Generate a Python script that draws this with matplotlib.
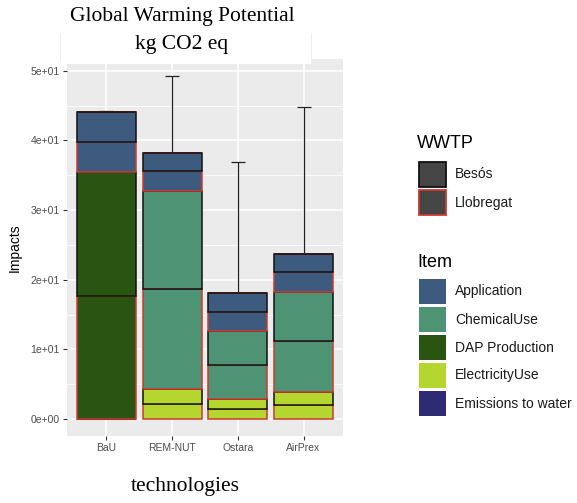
import numpy as np
import matplotlib.pyplot as plt
from matplotlib.patches import Rectangle
from matplotlib.lines import Line2D

# ------------------------------------------------------------
# data
# ------------------------------------------------------------
technologies = ['BaU', 'REM-NUT', 'Ostara', 'AirPrex']
items = ['ElectricityUse', 'ChemicalUse', 'DAP Production', 'Application', 'Emissions to water']
wwtps = ['Llobregat', 'Besós']   # stacked bottom-up within each item

# impacts per item, one list per WWTP (order = technologies)
llobregat = {
    'ElectricityUse':     [0.0, 2.2, 1.43, 1.95],
    'ChemicalUse':        [0.0, 14.3, 4.9, 7.3],
    'DAP Production':     [17.7, 0.0, 0.0, 0.0],
    'Application':        [4.3, 2.85, 2.75, 2.9],
    'Emissions to water': [0.0, 0.0, 0.0, 0.0],
}
besos = {
    'ElectricityUse':     [0.0, 2.1, 1.44, 1.92],
    'ChemicalUse':        [0.0, 14.1, 4.8, 7.0],
    'DAP Production':     [17.7, 0.0, 0.0, 0.0],
    'Application':        [4.3, 2.7, 2.75, 2.65],
    'Emissions to water': [0.0, 0.0, 0.0, 0.0],
}
err_upper = [44.15, 49.2, 36.95, 44.8]

yticks = [0, 10, 20, 30, 40, 50]
ytick_labels = ['0e+00', '1e+01', '2e+01', '3e+01', '4e+01', '5e+01']

item_colors = {
    'Application': '#3c5b7f',
    'ChemicalUse': '#4d9374',
    'DAP Production': '#2a5411',
    'ElectricityUse': '#b5d52f',
    'Emissions to water': '#2e2a74',
}
wwtp_edge = {'Besós': '#111111', 'Llobregat': '#cc3a30'}
legend_items = ['Application', 'ChemicalUse', 'DAP Production', 'ElectricityUse', 'Emissions to water']
legend_wwtp = ['Besós', 'Llobregat']

# ------------------------------------------------------------
# figure
# ------------------------------------------------------------
W, H = 577, 503
fig = plt.figure(figsize=(W/100, H/100), dpi=100)
plt.rcParams['font.family'] = ['Liberation Sans', 'DejaVu Sans']

def fx(x): return x/W
def fy(y): return 1 - y/H

ax = fig.add_axes([fx(67), fy(436.2), (343-67)/W, (436.2-59.1)/H])
ax.set_facecolor('#ebebeb')
for s in ax.spines.values():
    s.set_visible(False)
ax.set_axisbelow(True)

x = np.arange(len(technologies)) + 1
bottom = np.zeros(len(technologies))
for item in items:
    for w in wwtps:
        vals = np.array(llobregat[item] if w == 'Llobregat' else besos[item])
        ax.bar(x, vals, width=0.9, bottom=bottom, color=item_colors[item],
               edgecolor=wwtp_edge[w], linewidth=1.1, zorder=2)
        bottom = bottom + vals

tops = bottom
ax.errorbar(x, tops, yerr=[np.zeros(len(x)), np.array(err_upper) - tops], fmt='none',
            ecolor='#222222', elinewidth=0.9, capsize=4.7, capthick=0.9, zorder=1.5)

ax.set_xlim(0.4, 4.6)
ax.set_ylim(-2.46, 51.66)
ax.set_xticks(x)
ax.set_xticklabels(technologies)
ax.set_yticks(yticks)
ax.set_yticklabels(ytick_labels)
ax.set_yticks([5, 15, 25, 35, 45], minor=True)
ax.grid(True, which='major', color='white', linewidth=1.1)
ax.grid(True, which='minor', axis='y', color='white', linewidth=0.55)
ax.tick_params(which='major', length=2.6, width=0.8, color='#333333',
               labelcolor='#4d4d4d', labelsize=7.5, pad=2.5)
ax.tick_params(which='minor', length=0)
ax.set_ylabel('Impacts', fontsize=10, color='black', labelpad=6)

# pasted title box and x label
fig.add_artist(Rectangle((fx(60), fy(64)), (311-60)/W, (64-0)/H, transform=fig.transFigure,
                         facecolor='white', edgecolor='none', zorder=5))
for xp in [60, 311]:
    fig.add_artist(Line2D([fx(xp), fx(xp)], [fy(33), fy(60)], transform=fig.transFigure,
                          color='#ebebeb', linewidth=0.6, zorder=6))
fig.text(fx(182), fy(17), 'Global Warming Potential', ha='center', va='center',
         family='Liberation Serif', fontsize=15.5, zorder=7)
fig.text(fx(182), fy(44), 'kg CO2 eq', ha='center', va='center',
         family='Liberation Serif', fontsize=15.5, zorder=7)
fig.text(fx(185), fy(487), 'technologies', ha='center', va='center',
         family='Liberation Serif', fontsize=15.5)

# legends
kx, kw, kh, step = 419, 27, 25.5, 28.2
fig.text(fx(417), fy(144), 'WWTP', ha='left', va='center', fontsize=13)
for i, w in enumerate(legend_wwtp):
    y0 = 161.7 + i*step
    fig.add_artist(Rectangle((fx(kx), fy(y0 + kh)), kw/W, kh/H, transform=fig.transFigure,
                             facecolor='#454545', edgecolor=wwtp_edge[w], linewidth=1.3))
    fig.text(fx(455), fy(y0 + kh/2), w, ha='left', va='center', fontsize=10, color='#1a1a1a')

fig.text(fx(417), fy(262.5), 'Item', ha='left', va='center', fontsize=13)
for i, it in enumerate(legend_items):
    y0 = 279 + i*28
    fig.add_artist(Rectangle((fx(kx), fy(y0 + 25)), kw/W, 25/H, transform=fig.transFigure,
                             facecolor=item_colors[it], edgecolor='none'))
    fig.text(fx(455), fy(y0 + 12.5), it, ha='left', va='center', fontsize=10, color='#1a1a1a')

fig.savefig('out.png', dpi=100)
